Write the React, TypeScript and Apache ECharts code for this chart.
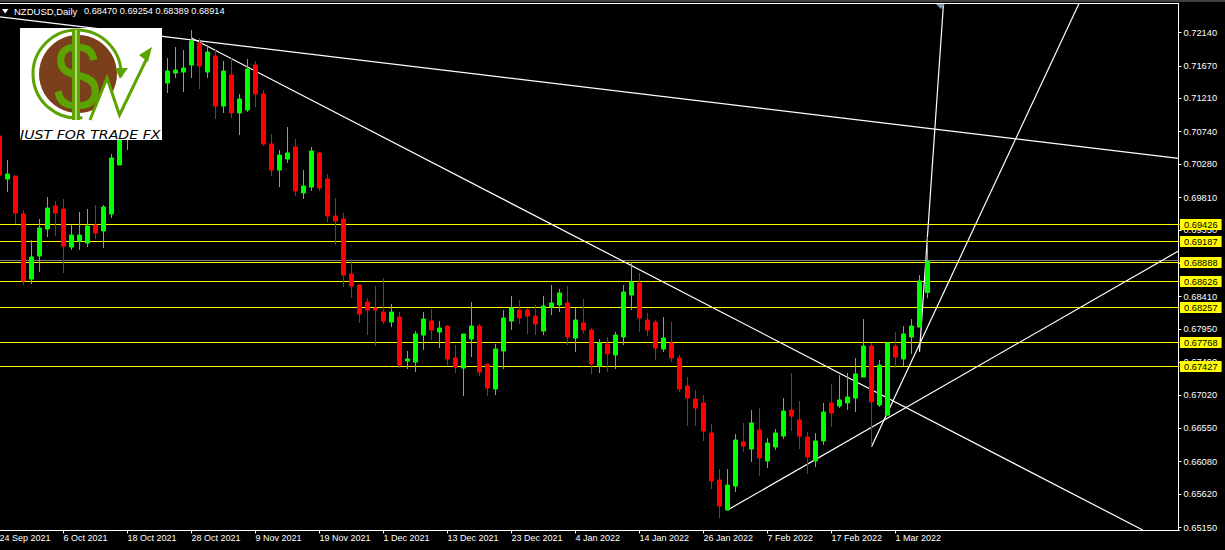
import React, { useEffect, useRef } from "react";
import * as echarts from "echarts";

const tickLabels = ["24 Sep 2021", "6 Oct 2021", "18 Oct 2021", "28 Oct 2021", "9 Nov 2021", "19 Nov 2021", "1 Dec 2021", "13 Dec 2021", "23 Dec 2021", "4 Jan 2022", "14 Jan 2022", "26 Jan 2022", "7 Feb 2022", "17 Feb 2022", "1 Mar 2022"];
const priceTicks = [0.7214, 0.7167, 0.7121, 0.7074, 0.7028, 0.6981, 0.6935, 0.6888, 0.6841, 0.6795, 0.6749, 0.6702, 0.6655, 0.6608, 0.6562, 0.6515];
const levels = [0.69426, 0.69187, 0.68888, 0.68626, 0.68257, 0.67768, 0.67427];
const bidLevel = 0.68914;

const opens = [
  0.70678, 0.70071, 0.70113, 0.69578, 0.68659, 0.68984, 0.69365, 0.6969, 0.69648, 0.6911,
  0.69195, 0.69167, 0.69421, 0.69337, 0.69578, 0.70269, 0.7065, 0.70876, 0.71187, 0.71018,
  0.71328, 0.71427, 0.71568, 0.71582, 0.71681, 0.71992, 0.71582, 0.71808, 0.71102, 0.71539,
  0.71004, 0.71046, 0.71681, 0.71272, 0.70566, 0.70198, 0.70354, 0.70523, 0.69874, 0.69958,
  0.70439, 0.70071, 0.69549, 0.69507, 0.6873, 0.68574, 0.68335, 0.6825, 0.68193, 0.68052,
  0.68122, 0.67501, 0.67487, 0.67868, 0.68066, 0.67911, 0.67995, 0.67544, 0.67402, 0.67812,
  0.67995, 0.67459, 0.67106, 0.67643, 0.68066, 0.68221, 0.68221, 0.68136, 0.67925, 0.68264,
  0.68292, 0.68321, 0.67826, 0.68038, 0.67939, 0.6743, 0.67742, 0.67586, 0.6784, 0.68433,
  0.68603, 0.6808, 0.68052, 0.67671, 0.67756, 0.67544, 0.67148, 0.66965, 0.66909, 0.66485,
  0.65821, 0.65397, 0.65736, 0.66358, 0.66259, 0.66527, 0.66089, 0.66287, 0.66442, 0.66809,
  0.66668, 0.66428, 0.66089, 0.66372, 0.66909, 0.66866, 0.66909, 0.66979, 0.67275, 0.67713,
  0.6688, 0.66738, 0.67713, 0.6753, 0.6784, 0.67981, 0.6847,
];
const closes = [
  0.70127, 0.70142, 0.69592, 0.68631, 0.6897, 0.69379, 0.69662, 0.69592, 0.69124, 0.6928,
  0.6928, 0.69407, 0.69309, 0.69676, 0.70368, 0.70735, 0.70933, 0.71116, 0.70975, 0.71398,
  0.71539, 0.71596, 0.7161, 0.71639, 0.7202, 0.71667, 0.71865, 0.71102, 0.71596, 0.71004,
  0.71201, 0.71625, 0.71272, 0.70566, 0.70198, 0.7041, 0.70439, 0.69902, 0.69972, 0.70467,
  0.69944, 0.69549, 0.69478, 0.68715, 0.6856, 0.68165, 0.68221, 0.68221, 0.68066, 0.68193,
  0.67444, 0.6753, 0.67883, 0.68094, 0.67939, 0.67967, 0.6753, 0.67416, 0.67883, 0.67995,
  0.67346, 0.6712, 0.67671, 0.68108, 0.6825, 0.68108, 0.68136, 0.68024, 0.68278, 0.68321,
  0.68462, 0.6784, 0.6808, 0.67939, 0.67459, 0.67756, 0.67601, 0.67868, 0.68476, 0.68617,
  0.68108, 0.67939, 0.67685, 0.67826, 0.67544, 0.67106, 0.66979, 0.66838, 0.66513, 0.65807,
  0.65454, 0.6575, 0.66386, 0.66301, 0.66626, 0.66132, 0.66344, 0.66485, 0.66795, 0.66724,
  0.66442, 0.66146, 0.66372, 0.66781, 0.66767, 0.66951, 0.66993, 0.67318, 0.67713, 0.66923,
  0.67444, 0.67756, 0.67558, 0.67883, 0.67995, 0.68631, 0.68914,
];
const lows = [
  0.70085, 0.69888, 0.69436, 0.68574, 0.68589, 0.68758, 0.69252, 0.69266, 0.68744, 0.69069,
  0.69069, 0.6911, 0.69224, 0.69096, 0.69521, 0.70269, 0.70481, 0.70763, 0.70833, 0.70904,
  0.71187, 0.71286, 0.71497, 0.713, 0.71497, 0.71342, 0.71497, 0.70919, 0.71004, 0.70933,
  0.70692, 0.71018, 0.71088, 0.70537, 0.70113, 0.69958, 0.70298, 0.69831, 0.69789, 0.69902,
  0.69902, 0.69464, 0.69138, 0.68546, 0.68391, 0.68038, 0.67868, 0.67713, 0.68024, 0.67981,
  0.67402, 0.67388, 0.67346, 0.67657, 0.67798, 0.67685, 0.67444, 0.67332, 0.67007, 0.67558,
  0.67289, 0.67007, 0.67021, 0.67388, 0.67939, 0.68024, 0.67883, 0.67868, 0.67868, 0.6815,
  0.68193, 0.67727, 0.67629, 0.67883, 0.67318, 0.67332, 0.67346, 0.67388, 0.67727, 0.68221,
  0.67911, 0.67854, 0.67515, 0.67629, 0.67487, 0.67064, 0.66583, 0.66583, 0.66372, 0.65694,
  0.65284, 0.65397, 0.65652, 0.66217, 0.66075, 0.65877, 0.6599, 0.66245, 0.664, 0.66513,
  0.66259, 0.65906, 0.66004, 0.66315, 0.66569, 0.66838, 0.66809, 0.66781, 0.67275, 0.66301,
  0.66852, 0.66738, 0.67402, 0.6743, 0.67601, 0.67981, 0.68389,
];
const highs = [
  0.70735, 0.7034, 0.70113, 0.69634, 0.69209, 0.69507, 0.69817, 0.69761, 0.69789, 0.69421,
  0.69606, 0.69648, 0.69704, 0.69704, 0.70425, 0.70876, 0.71018, 0.71257, 0.71328, 0.71539,
  0.71724, 0.7178, 0.71935, 0.71893, 0.72175, 0.72062, 0.71963, 0.71893, 0.71738, 0.7178,
  0.71272, 0.71766, 0.71738, 0.71328, 0.70707, 0.70481, 0.70805, 0.70636, 0.70198, 0.70523,
  0.70453, 0.70142, 0.69803, 0.69592, 0.68942, 0.68574, 0.68391, 0.6856, 0.68673, 0.68307,
  0.68193, 0.67643, 0.67925, 0.68193, 0.68236, 0.68066, 0.68009, 0.67727, 0.67883, 0.68335,
  0.68024, 0.67459, 0.67742, 0.68221, 0.68419, 0.68363, 0.6825, 0.68292, 0.68419, 0.68574,
  0.68518, 0.6856, 0.6825, 0.68377, 0.67967, 0.67812, 0.6784, 0.67911, 0.68574, 0.689,
  0.68744, 0.68179, 0.6808, 0.68122, 0.68052, 0.67586, 0.67275, 0.67092, 0.67021, 0.66612,
  0.65976, 0.65976, 0.66471, 0.66626, 0.66809, 0.66838, 0.66414, 0.66541, 0.66979, 0.67332,
  0.66937, 0.66499, 0.66485, 0.66909, 0.67177, 0.67303, 0.67332, 0.67544, 0.68094, 0.67756,
  0.67515, 0.67756, 0.67911, 0.67995, 0.68094, 0.68715, 0.69254,
];

// Trend lines as [bar index, price] pairs.
const trendTop = [[-0.5, 0.7237], [147.375, 0.70362]];
const trendFall = [[24, 0.72062], [142.9, 0.65115]];
const trendRise = [[91, 0.65397], [147.375, 0.69055]];
const trendSteep = [[109, 0.66291], [134.94, 0.7255]];
const trendVertical = [[115, 0.67633], [118, 0.7255]];
const trendLines = [trendTop, trendFall, trendRise, trendSteep, trendVertical];

const BAR_SLOTS = 148;
const Y_MIN = 0.65108;
const Y_MAX = 0.7255;
const GRID_TOP = 3.5;
const GRID_HEIGHT = 527;

const categories = Array.from({ length: BAR_SLOTS }, (_, i) => (i % 8 === 0 && tickLabels[i / 8]) || "");
const isLabelled = (i: number) => i % 8 === 0 && i / 8 < tickLabels.length;
const candles = opens.map((o, i) => [o, closes[i], lows[i], highs[i]]);

// Nudges a level onto the nearest device pixel row so that its 1px line stays crisp.
const crisp = (v: number) => {
  const k = GRID_HEIGHT / (Y_MAX - Y_MIN);
  const row = Math.floor(GRID_TOP + (Y_MAX - v) * k) + 0.5;
  return Y_MAX - (row - GRID_TOP) / k;
};

const UI_FONT = "'Liberation Sans', Arial, sans-serif";
const GREEN = "#5ca300";

const logo = [
  { type: "rect", shape: { x: 20, y: 28, width: 142, height: 112 }, style: { fill: "#ffffff" } },
  { type: "circle", shape: { cx: 78, cy: 74, r: 39 }, style: { fill: "#7b3f1c" } },
  { type: "polygon", shape: { points: [[90, 122], [107, 77], [119, 112], [121, 76], [135, 124]] }, style: { fill: "#ffffff" } },
  { type: "arc", shape: { cx: 77, cy: 74, r: 44, startAngle: 1.45, endAngle: 6.35, clockwise: true }, style: { stroke: GREEN, fill: "none", lineWidth: 3 } },
  { type: "polygon", shape: { points: [[115, 68], [128, 68], [120, 79]] }, style: { fill: GREEN } },
  { type: "rect", shape: { x: 72, y: 30, width: 8, height: 90 }, style: { fill: GREEN } },
  { type: "text", x: 77, y: 76, scaleX: 0.85, style: { text: "$", fill: GREEN, font: "98px 'Liberation Sans'", textAlign: "center", textVerticalAlign: "middle" } },
  { type: "rect", shape: { x: 75, y: 30, width: 2, height: 90 }, style: { fill: "#b6d77c" } },
  { type: "polyline", shape: { points: [[90, 120], [107, 78], [119.5, 115], [147, 58]] }, style: { stroke: GREEN, fill: "none", lineWidth: 3 } },
  { type: "polygon", shape: { points: [[152, 47], [139, 55], [148, 62]] }, style: { fill: GREEN } },
  { type: "text", x: 20, y: 135, scaleX: 1.18, style: { text: "JUST FOR TRADE FX", fill: "#000000", font: "italic 12px 'DejaVu Sans'", textVerticalAlign: "middle" } },
].map((el) => ({ ...el, z: 100, silent: true }));

const decorations = [
  { type: "rect", shape: { x: 0, y: 0, width: 1225, height: 2 }, style: { fill: "#404040" } },
  { type: "line", shape: { x1: 0, y1: 3.5, x2: 1179, y2: 3.5 }, style: { stroke: "#ffffff", lineWidth: 1 } },
  { type: "polygon", shape: { points: [[936, 4], [945, 4], [941, 9]] }, style: { fill: "#7a99ad" } },
  { type: "polygon", shape: { points: [[2, 9], [8.5, 9], [5.2, 13.5]] }, style: { fill: "#ffffff" } },
  { type: "text", x: 14, y: 11, style: { text: "NZDUSD,Daily", fill: "#ffffff", font: `9.5px ${UI_FONT}`, textVerticalAlign: "middle" } },
  { type: "text", x: 84, y: 11, style: { text: "0.68470 0.69254 0.68389 0.68914", fill: "#ffffff", font: `9.2px ${UI_FONT}`, textVerticalAlign: "middle" } },
].map((el) => ({ ...el, z: 90, silent: true }));

const levelLine = (v: number, color: string, boxed: boolean) => ({
  type: "line",
  xAxisIndex: 1,
  data: [[-0.5, crisp(v)], [BAR_SLOTS - 0.5, crisp(v)]],
  z: 1,
  silent: true,
  showSymbol: false,
  symbol: "none",
  lineStyle: { color, width: 1 },
  endLabel: boxed
    ? {
        show: true,
        distance: 0.5,
        formatter: v.toFixed(5),
        color: "#000000",
        backgroundColor: "#ffff00",
        fontFamily: UI_FONT,
        fontSize: 9.3,
        lineHeight: 10,
        padding: [1, 4, 0, 4],
      }
    : { show: false },
});

export default function App() {
  const ref = useRef<HTMLDivElement>(null);
  useEffect(() => {
    const chart = echarts.init(ref.current!, null, { renderer: "svg" });
    chart.setOption({
      animation: false,
      backgroundColor: "#000000",
      grid: { left: -4.5, top: GRID_TOP, width: BAR_SLOTS * 8, height: GRID_HEIGHT, containLabel: false, outerBoundsMode: "none" },
      xAxis: [
        {
          type: "category",
          data: categories,
          position: "bottom",
          axisLine: { show: true, lineStyle: { color: "#ffffff", width: 1 } },
          axisTick: { show: true, length: 3, alignWithLabel: true, interval: (i: number) => isLabelled(i), lineStyle: { color: "#ffffff" } },
          axisLabel: {
            color: "#ffffff",
            fontFamily: UI_FONT,
            fontSize: 9,
            margin: 3,
            align: "left",
            interval: (i: number) => isLabelled(i),
            hideOverlap: false,
          },
          splitLine: { show: false },
        },
        { type: "value", min: -0.5, max: BAR_SLOTS - 0.5, show: false, splitLine: { show: false } },
      ],
      yAxis: {
        type: "value",
        position: "right",
        offset: -1,
        min: Y_MIN,
        max: Y_MAX,
        splitLine: { show: false },
        axisLine: { show: true, onZero: false, lineStyle: { color: "#ffffff", width: 1 } },
        axisTick: { show: true, length: 3, customValues: priceTicks, lineStyle: { color: "#ffffff" } },
        axisLabel: {
          color: "#ffffff",
          fontFamily: UI_FONT,
          fontSize: 9.3,
          margin: 5,
          customValues: priceTicks,
          formatter: (v: number) => v.toFixed(5),
        },
      },
      graphic: { elements: [...decorations, ...logo] },
      series: [
        levelLine(bidLevel, "#808080", false),
        ...levels.map((v) => levelLine(v, "#ffff00", true)),
        ...trendLines.map((pts) => ({
          type: "line",
          xAxisIndex: 1,
          data: pts,
          z: 1,
          silent: true,
          showSymbol: false,
          symbol: "none",
          lineStyle: { color: "#ffffff", width: 1.2 },
        })),
        {
          type: "candlestick",
          xAxisIndex: 0,
          data: candles,
          z: 3,
          barWidth: 4,
          silent: true,
          itemStyle: { color: "#00ff00", color0: "#ff0000", borderColor: "#00ff00", borderColor0: "#ff0000", borderWidth: 1 },
        },
      ],
    });
    return () => chart.dispose();
  }, []);
  return <div ref={ref} style={{ position: "fixed", left: 0, top: 0, width: 1225, height: 550 }} />;
}
